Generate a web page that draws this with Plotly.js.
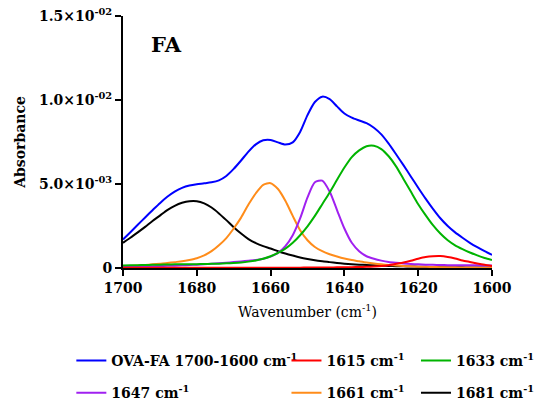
<!DOCTYPE html>
<html>
<head>
<meta charset="utf-8">
<script src="https://cdn.plot.ly/plotly-3.0.1.min.js"></script>
<style>
  html, body { margin: 0; padding: 0; background: #fff; }
  #chart { width: 537px; height: 406px; }
</style>
</head>
<body>
<div id="chart"></div>
<script>
// Wavenumber grid (cm-1), high to low
const wavenumber = [1700,1698,1696,1694,1692,1690,1688,1686,1684,1682,1680,1678,1676,1674,1672,1670,1668,1666,1664,1662,1660,1658,1656,1654,1652,1650,1648,1646,1644,1642,1640,1638,1636,1634,1632,1630,1628,1626,1624,1622,1620,1618,1616,1614,1612,1610,1608,1606,1604,1602,1600];

// Measured amide I band, OVA-FA
const ovaFA = [0.00170,0.00213,0.00257,0.00301,0.00344,0.00386,0.00424,0.00455,0.00477,0.00491,0.00499,0.00504,0.00510,0.00522,0.00548,0.00590,0.00640,0.00693,0.00736,0.00760,0.00762,0.00748,0.00735,0.00748,0.00810,0.00910,0.00988,0.01020,0.01005,0.00962,0.00920,0.00895,0.00878,0.00862,0.00835,0.00795,0.00740,0.00677,0.00612,0.00545,0.00478,0.00413,0.00352,0.00296,0.00250,0.00212,0.00180,0.00150,0.00124,0.00100,0.00078];

// Fitted component bands
const band1615 = [0.00002,0.00002,0.00002,0.00002,0.00002,0.00002,0.00002,0.00002,0.00002,0.00002,0.00002,0.00002,0.00002,0.00002,0.00002,0.00002,0.00002,0.00002,0.00002,0.00002,0.00002,0.00002,0.00002,0.00002,0.00002,0.00003,0.00003,0.00003,0.00003,0.00004,0.00004,0.00005,0.00006,0.00007,0.00009,0.00012,0.00017,0.00025,0.00033,0.00043,0.00055,0.00065,0.00070,0.00071,0.00066,0.00057,0.00045,0.00036,0.00027,0.00019,0.00012];
const band1633 = [0.00015,0.00016,0.00017,0.00018,0.00019,0.00020,0.00021,0.00022,0.00022,0.00023,0.00023,0.00024,0.00025,0.00026,0.00028,0.00030,0.00033,0.00038,0.00045,0.00055,0.00070,0.00090,0.00115,0.00150,0.00195,0.00248,0.00310,0.00380,0.00450,0.00525,0.00598,0.00660,0.00700,0.00725,0.00728,0.00708,0.00665,0.00605,0.00530,0.00455,0.00380,0.00315,0.00255,0.00205,0.00165,0.00135,0.00112,0.00092,0.00075,0.00060,0.00048];
const band1647 = [0.00008,0.00008,0.00009,0.00010,0.00011,0.00012,0.00013,0.00014,0.00016,0.00018,0.00020,0.00022,0.00025,0.00028,0.00031,0.00035,0.00039,0.00043,0.00047,0.00055,0.00068,0.00090,0.00130,0.00195,0.00295,0.00420,0.00510,0.00520,0.00455,0.00345,0.00235,0.00150,0.00100,0.00070,0.00055,0.00044,0.00036,0.00031,0.00027,0.00024,0.00022,0.00020,0.00019,0.00018,0.00017,0.00017,0.00016,0.00016,0.00016,0.00015,0.00015];
const band1661 = [0.00010,0.00012,0.00015,0.00018,0.00022,0.00026,0.00030,0.00035,0.00040,0.00048,0.00058,0.00075,0.00100,0.00135,0.00178,0.00235,0.00300,0.00378,0.00445,0.00495,0.00505,0.00470,0.00400,0.00310,0.00225,0.00165,0.00125,0.00100,0.00082,0.00068,0.00056,0.00047,0.00040,0.00033,0.00027,0.00022,0.00018,0.00015,0.00012,0.00010,0.00008,0.00007,0.00006,0.00005,0.00004,0.00004,0.00003,0.00003,0.00002,0.00002,0.00002];
const band1681 = [0.00150,0.00180,0.00212,0.00245,0.00280,0.00312,0.00345,0.00370,0.00388,0.00398,0.00398,0.00385,0.00360,0.00325,0.00285,0.00243,0.00205,0.00172,0.00148,0.00130,0.00116,0.00100,0.00086,0.00074,0.00063,0.00054,0.00046,0.00040,0.00035,0.00030,0.00026,0.00023,0.00020,0.00018,0.00016,0.00014,0.00012,0.00011,0.00010,0.00009,0.00008,0.00007,0.00006,0.00005,0.00005,0.00004,0.00004,0.00003,0.00003,0.00003,0.00002];

// Axis ticks
const xTicks = [1700, 1680, 1660, 1640, 1620, 1600];
const yTickVals = [0, 0.005, 0.010, 0.015];
const yTickText = ['0', '5.0×10<sup>-03</sup>', '1.0×10<sup>-02</sup>', '1.5×10<sup>-02</sup>'];

const CM = ' cm<sup>-1</sup>';
const serif = 'DejaVu Serif, Georgia, serif';

function line(y, name, color, legend, rank) {
  return {
    x: wavenumber, y: y, name: name, type: 'scatter', mode: 'lines',
    line: { color: color, width: 2, shape: 'spline', smoothing: 0.7 },
    legend: legend, legendgroup: 'g' + rank + legend, legendrank: rank,
    hoverinfo: 'skip'
  };
}

// Drawing order: components first, measured band, then the small 1615 band on top
const traces = [
  line(band1681, '1681' + CM, '#000000', 'legend3', 2),
  line(band1661, '1661' + CM, '#ff8c1a', 'legend2', 2),
  line(band1647, '1647' + CM, '#a020f0', 'legend', 2),
  line(band1633, '1633' + CM, '#00b400', 'legend3', 1),
  line(ovaFA, 'OVA-FA 1700-1600' + CM, '#0000ff', 'legend', 1),
  line(band1615, '1615' + CM, '#ff0000', 'legend2', 1)
];

const legendBase = {
  font: { family: serif, size: 14, color: '#000', weight: 'bold' },
  bgcolor: 'rgba(0,0,0,0)', orientation: 'v',
  traceorder: 'grouped', tracegroupgap: 11,
  xanchor: 'left', yanchor: 'top', y: -0.305
};

const layout = {
  width: 537, height: 406,
  paper_bgcolor: '#fff', plot_bgcolor: '#fff',
  margin: { l: 123, r: 45, t: 16, b: 138, autoexpand: false },
  showlegend: true,
  legend: Object.assign({}, legendBase, { x: -0.14 }),
  legend2: Object.assign({}, legendBase, { x: 0.443 }),
  legend3: Object.assign({}, legendBase, { x: 0.794 }),
  xaxis: {
    range: [1700, 1600], tickvals: xTicks, ticktext: xTicks.map(String),
    showgrid: false, zeroline: false, showline: true, linecolor: '#000', linewidth: 2,
    ticks: 'outside', ticklen: 6, tickwidth: 2, tickcolor: '#000',
    tickfont: { family: serif, size: 14, color: '#000', weight: 'bold' },
    title: { text: 'Wavenumber (cm<sup>-1</sup>)', font: { family: serif, size: 14, color: '#000' }, standoff: 12 }
  },
  yaxis: {
    range: [0, 0.015], tickvals: yTickVals, ticktext: yTickText,
    showgrid: false, zeroline: false, showline: true, linecolor: '#000', linewidth: 2,
    ticks: 'outside', ticklen: 6, tickwidth: 2, tickcolor: '#000',
    tickfont: { family: serif, size: 14, color: '#000', weight: 'bold' },
    title: { text: 'Absorbance', font: { family: serif, size: 14, color: '#000', weight: 'bold' }, standoff: 10 }
  },
  annotations: [{
    text: 'FA', xref: 'paper', yref: 'paper', x: 0.118, y: 0.885,
    xanchor: 'center', yanchor: 'middle', showarrow: false,
    font: { family: serif, size: 21, color: '#000', weight: 'bold' }
  }]
};

Plotly.newPlot('chart', traces, layout, { staticPlot: true, displayModeBar: false });
</script>
</body>
</html>
